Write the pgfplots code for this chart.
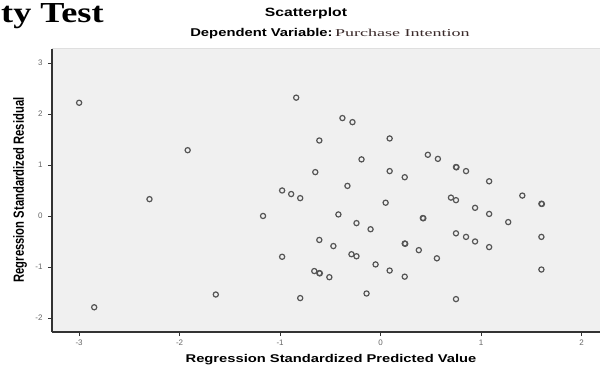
\documentclass[border=0pt]{standalone}
\usepackage{fontspec}
\setmainfont{Liberation Sans}
\newfontfamily\lserif{Liberation Serif}
\usepackage{graphicx}
\usepackage{pgfplots}
\pgfplotsset{compat=1.18}
\definecolor{bggray}{HTML}{F0F0F0}
\definecolor{markgray}{HTML}{555555}
\definecolor{axisgray}{HTML}{333333}
\definecolor{tickgray}{HTML}{666666}
\definecolor{subred}{HTML}{3A2A2A}
\begin{document}
\begin{tikzpicture}
\useasboundingbox (0,0) rectangle (600pt,368pt);
\begin{axis}[
  at={(52pt,36pt)}, anchor=south west,
  scale only axis, width=549.7pt, height=283.3pt,
  xmin=-3.27, xmax=2.2, ymin=-2.275, ymax=3.28,
  axis x line*=bottom, axis y line*=left,
  axis line style={axisgray, line width=1.2pt, -},
  axis background/.style={fill=bggray},
  xtick={-3,-2,-1,0,1,2}, ytick={-2,-1,0,1,2,3},
  xticklabels={-3,-2,-1,0,1,2}, yticklabels={-2,-1,0,1,2,3},
  tick align=outside, major tick length=4pt,
  tick style={axisgray, line width=0.8pt},
  ticklabel style={font=\fontsize{8}{9}\selectfont, text=tickgray},
  yticklabel style={xshift=-2pt},
  clip=true,
]
\draw[gray!25] (rel axis cs:0,1) -- (rel axis cs:1,1);
\addplot[only marks, mark=o, mark size=2.6pt, mark options={line width=1.2pt, draw=markgray}] coordinates {
(-3.00,2.22) (-2.85,-1.79) (-2.30,0.33) (-1.92,1.29) (-1.64,-1.54)
(-1.17,0.00) (-0.98,0.50) (-0.89,0.43) (-0.80,0.35) (-0.98,-0.80)
(-0.80,-1.61) (-0.84,2.32) (-0.38,1.92) (-0.28,1.84) (-0.61,1.48)
(0.09,1.52) (-0.19,1.11) (0.47,1.20) (0.57,1.12) (0.75,0.96) (0.755,0.955)
(0.85,0.88) (-0.65,0.86) (0.09,0.88) (0.24,0.76) (1.08,0.68)
(-0.33,0.59) (0.70,0.36) (0.75,0.31) (1.41,0.40) (1.60,0.24) (1.605,0.235)
(0.05,0.26) (-0.42,0.03) (0.42,-0.04) (0.425,-0.045) (0.94,0.16) (1.08,0.04)
(1.27,-0.12) (-0.24,-0.14) (-0.10,-0.26) (-0.61,-0.47) (-0.47,-0.59)
(0.24,-0.54) (0.245,-0.545) (0.38,-0.67) (0.56,-0.83) (0.75,-0.34) (0.85,-0.41)
(0.94,-0.50) (1.08,-0.61) (1.60,-0.41) (-0.29,-0.75) (-0.24,-0.79)
(-0.05,-0.95) (0.09,-1.07) (0.24,-1.19) (-0.66,-1.08) (-0.61,-1.12) (-0.605,-1.125)
(-0.51,-1.20) (1.60,-1.05) (-0.14,-1.52) (0.75,-1.63)
};
\end{axis}
\node[inner sep=0] at (306pt,355pt) {\scalebox{1.31}[1]{\fontsize{12}{14}\selectfont\bfseries Scatterplot}};
\node[inner sep=0] at (330pt,334pt) {\scalebox{1.31}[1]{\fontsize{11.3}{13}\selectfont\bfseries Dependent Variable:\,\scalebox{1.31}[1]{\lserif\mdseries\color{subred}\fontsize{10.5}{13}\selectfont Purchase Intention}}};
\node[inner sep=0] at (331pt,8pt) {\scalebox{1.31}[1]{\fontsize{11.25}{13}\selectfont\bfseries Regression Standardized Predicted Value}};
\node[inner sep=0, rotate=90] at (20pt,178pt) {\scalebox{1}[1.31]{\fontsize{11.25}{13}\selectfont\bfseries Regression Standardized Residual}};
\node[anchor=base west, inner sep=0] at (1pt,346pt) {\scalebox{1.25}[1]{\lserif\bfseries\fontsize{29}{31}\selectfont ty Test}};
\end{tikzpicture}
\end{document}
